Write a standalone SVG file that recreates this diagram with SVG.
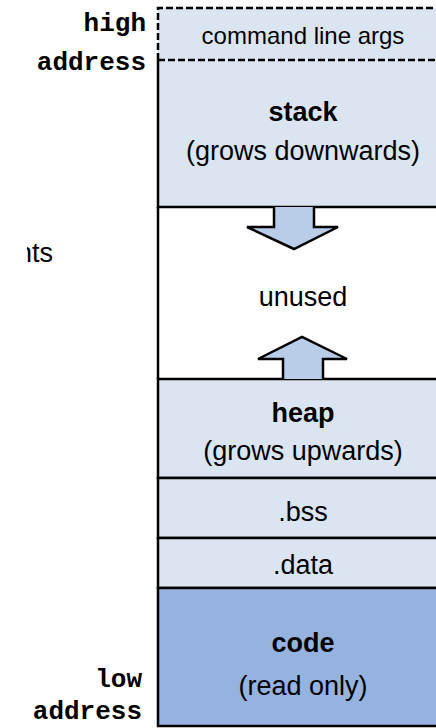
<svg xmlns="http://www.w3.org/2000/svg" width="436" height="728" viewBox="0 0 436 728">
<style>
.seg{fill:#dbe5f1;stroke:#000;stroke-width:2.5}
.lbl{font-family:"Liberation Sans",Arial,sans-serif;font-size:27px;fill:#000;text-anchor:middle}
.b{font-weight:bold}
.mono{font-family:"Liberation Mono","Courier New",monospace;font-weight:bold;font-size:26px;fill:#000;text-anchor:end}
.arr{fill:#b9cde8;stroke:#000;stroke-width:2.5;stroke-linejoin:miter}
.dash{fill:none;stroke:#000;stroke-width:2.5;stroke-dasharray:7 3}
</style>
<defs>
<clipPath id="clipN"><rect x="27" y="220" width="60" height="60"/></clipPath>
</defs>
<rect width="436" height="728" fill="#fff"/>
<text class="lbl" x="17" y="262" style="text-anchor:start" clip-path="url(#clipN)">nts</text>
<g id="labels">
<text class="mono" x="146" y="31">high</text>
<text class="mono" x="146" y="70">address</text>
<text class="mono" x="142" y="687">low</text>
<text class="mono" x="142" y="719">address</text>
</g>
<g id="args">
<rect x="158" y="8" width="300" height="52" fill="#dbe5f1"/>
<path class="dash" d="M158 60 V8 H450"/>
<text class="lbl" x="303" y="44" style="font-size:24px">command line args</text>
</g>
<g id="stack">
<path d="M158 60 V207 H450 V60 Z" fill="#dbe5f1"/>
<path d="M158 60 V207 H450" fill="none" stroke="#000" stroke-width="2.5"/>
<line class="dash" x1="158" y1="60" x2="450" y2="60"/>
<text class="lbl b" x="303" y="121">stack</text>
<text class="lbl" x="303" y="160">(grows downwards)</text>
</g>
<g id="unused">
<path d="M158 207 V379" fill="none" stroke="#000" stroke-width="2.5"/>
<text class="lbl" x="303" y="306">unused</text>
</g>
<g id="heap">
<rect class="seg" x="158" y="379" width="300" height="99"/>
<text class="lbl b" x="303" y="422">heap</text>
<text class="lbl" x="303" y="460">(grows upwards)</text>
</g>
<g id="bss">
<rect class="seg" x="158" y="478" width="300" height="60"/>
<text class="lbl" x="303" y="521">.bss</text>
</g>
<g id="data">
<rect class="seg" x="158" y="538" width="300" height="50"/>
<text class="lbl" x="303" y="574">.data</text>
</g>
<g id="code">
<rect class="seg" x="158" y="588" width="300" height="138" style="fill:#95b3de"/>
<text class="lbl b" x="303" y="652">code</text>
<text class="lbl" x="303" y="695">(read only)</text>
</g>
<g id="connectors">
<path class="arr" d="M274 207 V227 H247 L294 249 L338 227 H314 V207"/>
<path class="arr" d="M283 379 V359 H258 L302 337 L347 359 H323 V379"/>
</g>
</svg>
